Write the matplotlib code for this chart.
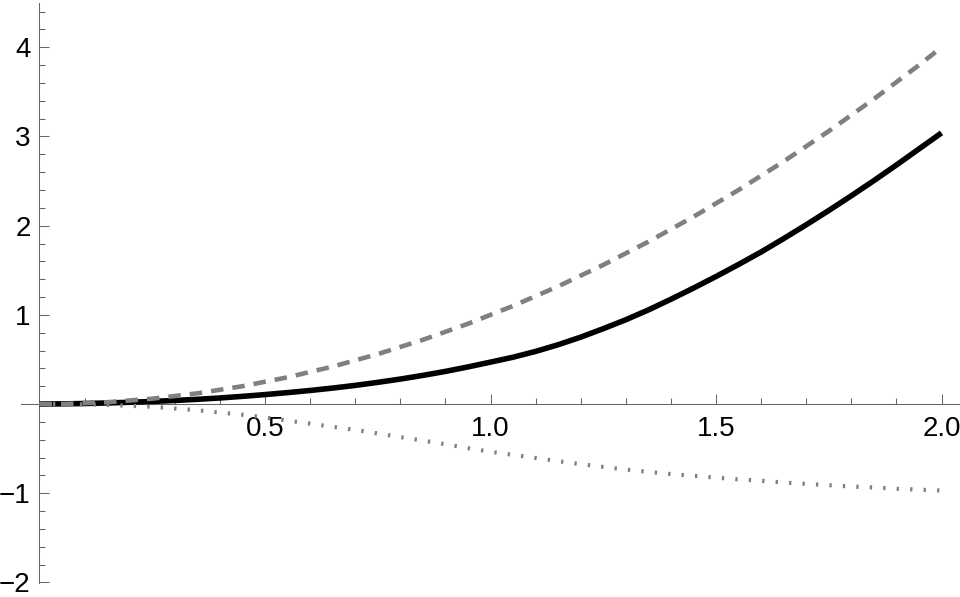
import matplotlib.pyplot as plt
from matplotlib.ticker import FixedLocator

# values, every 0.05 along x
x = [0.0, 0.05, 0.1, 0.15, 0.2, 0.25, 0.3, 0.35, 0.4, 0.45, 0.5,
     0.55, 0.6, 0.65, 0.7, 0.75, 0.8, 0.85, 0.9, 0.95, 1.0,
     1.05, 1.1, 1.15, 1.2, 1.25, 1.3, 1.35, 1.4, 1.45, 1.5,
     1.55, 1.6, 1.65, 1.7, 1.75, 1.8, 1.85, 1.9, 1.95, 2.0]
upper = [0.0, 0.0, 0.01, 0.02, 0.04, 0.06, 0.09, 0.12, 0.16, 0.20, 0.25,
         0.30, 0.36, 0.42, 0.49, 0.56, 0.64, 0.72, 0.81, 0.90, 1.0,
         1.10, 1.21, 1.32, 1.44, 1.56, 1.69, 1.82, 1.96, 2.10, 2.25,
         2.40, 2.56, 2.72, 2.89, 3.06, 3.24, 3.42, 3.61, 3.80, 4.0]
lower = [0.0, 0.0, -0.005, -0.01, -0.02, -0.03, -0.05, -0.07, -0.095, -0.12, -0.15,
         -0.185, -0.22, -0.255, -0.29, -0.33, -0.37, -0.41, -0.45, -0.495, -0.535,
         -0.57, -0.605, -0.64, -0.675, -0.705, -0.735, -0.76, -0.785, -0.805, -0.825,
         -0.845, -0.86, -0.88, -0.895, -0.91, -0.925, -0.935, -0.95, -0.96, -0.97]
middle = [0.0, 0.002, 0.006, 0.012, 0.02, 0.029, 0.04, 0.053, 0.068, 0.086, 0.106,
          0.128, 0.152, 0.179, 0.209, 0.243, 0.28, 0.321, 0.366, 0.416, 0.47,
          0.525, 0.59, 0.665, 0.75, 0.845, 0.945, 1.055, 1.175, 1.30, 1.43,
          1.565, 1.705, 1.855, 2.01, 2.17, 2.335, 2.505, 2.68, 2.86, 3.04]

x_major = [0.5, 1.0, 1.5, 2.0]
x_labels = ['0.5', '1.0', '1.5', '2.0']
y_major = [-2, -1, 1, 2, 3, 4]
y_labels = ['\u22122', '\u22121', '1', '2', '3', '4']

plt.rcParams['font.family'] = ['Liberation Sans', 'DejaVu Sans']
plt.rcParams['lines.scale_dashes'] = False

fig = plt.figure(figsize=(9.6, 5.97), dpi=100)
ax = fig.add_axes([21 / 960, (597 - 583.3) / 597, 939 / 960, (583.3 - 2.7) / 597])

ax.plot(x, middle, color='black', lw=4.0, solid_capstyle='butt', solid_joinstyle='round', zorder=3)
ax.plot(x, upper, color='#808080', lw=3.3, dashes=(9, 6.5), dash_capstyle='butt', zorder=4)
ax.plot(x, lower, color='#808080', lw=3.0, dashes=(1.7, 8.0), dash_capstyle='butt', zorder=4)

ax.set_xlim(-0.041, 2.041)
ax.set_ylim(-2.01, 4.5)

# axes cross at the origin, mathematica style
for s in ['top', 'right']:
    ax.spines[s].set_visible(False)
ax.spines['left'].set_position(('data', 0))
ax.spines['bottom'].set_position(('data', 0))
for s in ['left', 'bottom']:
    ax.spines[s].set_color('#666666')
    ax.spines[s].set_linewidth(0.75)

ax.set_xticks(x_major)
ax.set_xticklabels(x_labels)
ax.set_yticks(y_major)
ax.set_yticklabels(y_labels)
ax.xaxis.set_minor_locator(FixedLocator([i / 10 for i in range(1, 21) if i % 5 != 0]))
ax.yaxis.set_minor_locator(FixedLocator([i / 5 for i in range(-10, 23) if i % 5 != 0]))

ax.tick_params(which='both', direction='in', color='#666666', width=0.75, labelsize=20)
ax.tick_params(which='major', length=7.2)
ax.tick_params(which='minor', length=4.3)
ax.tick_params(axis='x', which='major', pad=8.5)
ax.tick_params(axis='y', which='major', pad=6.3)

plt.savefig('out.png', dpi=100)
